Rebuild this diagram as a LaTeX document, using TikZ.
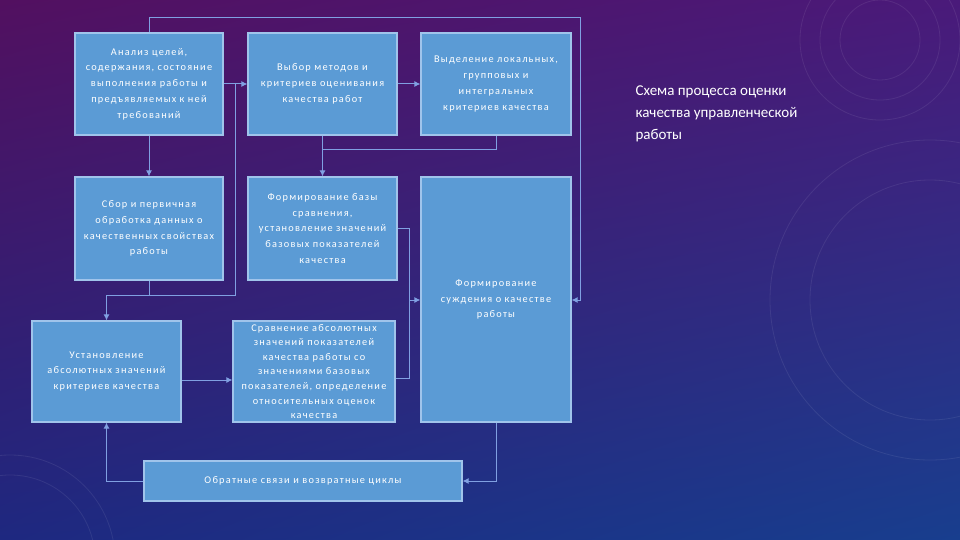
\documentclass[tikz,border=0pt]{standalone}
\usepackage{fontspec}
\setmainfont{Carlito}
\newfontfamily\boxfont[LetterSpace=12]{Carlito}
\usetikzlibrary{arrows.meta,shadings}
\definecolor{bgTL}{RGB}{82,16,96}
\definecolor{bgTR}{RGB}{74,26,122}
\definecolor{bgBL}{RGB}{30,40,128}
\definecolor{bgBR}{RGB}{24,62,142}
\definecolor{boxfill}{RGB}{91,155,213}
\definecolor{boxline}{RGB}{160,196,235}
\definecolor{linkblue}{RGB}{128,160,226}
\tikzset{
    % process boxes
    stepbox/.style={
        draw=boxline, fill=boxfill, line width=1.2pt,
        inner sep=2pt, align=center, text=white,
        font=\boxfont\fontsize{10.3}{15.8}\selectfont
    },
    % connectors
    link/.style={draw=linkblue, line width=1pt},
    arrowlink/.style={link, -{Latex[length=6pt,width=6pt]}},
    % background rings
    ring/.style={draw=white, opacity=0.08, line width=0.8pt},
}

\begin{document}
\begin{tikzpicture}[x=1pt,y=-1pt]
  \shade[upper left=bgTL, upper right=bgTR, lower left=bgBL, lower right=bgBR]
    (0,0) rectangle (960,540);
  \useasboundingbox (0,0) rectangle (960,540);
  \foreach \r in {85,105}{\draw[ring] (10,560) circle (\r);}
  \foreach \r in {40,60,80}{\draw[ring] (880,40) circle (\r);}
  \foreach \r in {120,160}{\draw[ring] (930,300) circle (\r);}

  % first row
  \node[stepbox,minimum width=146pt,minimum height=102pt,text width=144pt] (anal) at (149,84)
    {Анализ целей,\\ содержания, состояние\\ выполнения работы и\\ предъявляемых к ней\\ требований};
  \node[stepbox,minimum width=147pt,minimum height=102pt,text width=145pt] (vybor) at (322.5,84)
    {Выбор методов и\\ критериев оценивания\\ качества работ};
  \node[stepbox,minimum width=148pt,minimum height=102pt,text width=146pt] (vydel) at (496,84)
    {Выделение локальных,\\ групповых и\\ интегральных\\ критериев качества};
  % second row
  \node[stepbox,minimum width=146pt,minimum height=103pt,text width=144pt] (sbor) at (149,228.5)
    {Сбор и первичная\\ обработка данных о\\ качественных свойствах\\ работы};
  \node[stepbox,minimum width=147pt,minimum height=103pt,text width=145pt] (baza) at (322.5,228.5)
    {Формирование базы\\ сравнения,\\ установление значений\\ базовых показателей\\ качества};
  \node[stepbox,minimum width=148pt,minimum height=245pt,text width=146pt] (sud) at (496,299.5)
    {Формирование\\ суждения о качестве\\ работы};
  % third row
  \node[stepbox,minimum width=147pt,minimum height=101pt,text width=145pt] (ustan) at (106.5,371.5)
    {Установление\\ абсолютных значений\\ критериев качества};
  \node[stepbox,minimum width=158pt,minimum height=101pt,text width=158pt,
        font=\boxfont\fontsize{10.3}{14.6}\selectfont] (sravn) at (314,371.5)
    {Сравнение абсолютных\\ значений показателей\\ качества работы со\\ значениями базовых\\ показателей, определение\\ относительных оценок\\ качества};
  \node[stepbox,minimum width=318pt,minimum height=40pt] (obrat) at (303,481)
    {Обратные связи и возвратные циклы};

  \node[anchor=north west,align=left,text=white,font=\fontsize{15}{22}\selectfont] (title) at (632,82)
    {Схема процесса оценки\\ качества управленческой\\ работы};

  % junction points
  \coordinate (j1) at (235,84);
  \coordinate (j2) at (235,295);
  \coordinate (j3) at (106.5,295);
  \coordinate (j4) at (322.5,150);
  \coordinate (j5) at (409,300);

  \draw[arrowlink] (anal) -- (vybor);
  \draw[arrowlink] (vybor) -- (vydel);
  \draw[arrowlink] (anal) -- (sbor);
  \draw[link] (j1) -- (j2) -- (j3);
  \draw[link] (sbor.south) -- (sbor.south |- j2);
  \draw[arrowlink] (j3) -- (ustan.north);
  \draw[arrowlink] (anal.north) -- ++(0,-15) -| (580,300) -- (sud.east |- j5);
  \draw[link] (vybor.south) -- (j4);
  \draw[link] (vydel.south) |- (j4);
  \draw[arrowlink] (j4) -- (baza.north);
  \draw[link] (baza.east) -| (j5);
  \draw[link] (sravn.east |- 0,378) -| (j5);
  \draw[arrowlink] (j5) -- (sud.west |- j5);
  \draw[arrowlink] (ustan.east |- 0,380) -- (sravn.west |- 0,380);
  \draw[arrowlink] (sud.south) |- (obrat.east);
  \draw[arrowlink] (obrat.west) -| (ustan.south);
\end{tikzpicture}
\end{document}
